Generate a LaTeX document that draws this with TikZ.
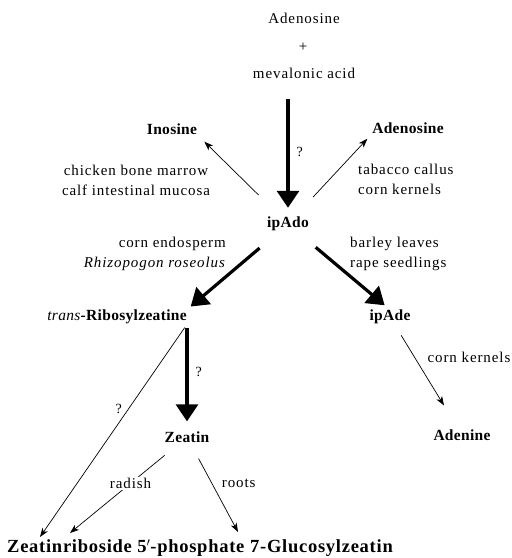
\documentclass[tikz,border=0pt]{standalone}
\usepackage{fontspec}
\setmainfont{Liberation Serif}
\newfontfamily\spaced[LetterSpace=6]{Liberation Serif}
\newfontfamily\spacedl[LetterSpace=2]{Liberation Serif}
\newfontfamily\spacedb[LetterSpace=4]{Liberation Serif}
\usetikzlibrary{arrows.meta,calc}
\begin{document}
\begin{tikzpicture}[x=1pt,y=-1pt,
  reg/.style={inner sep=0pt,font=\spaced\fontsize{15}{20}\selectfont},
  lbl/.style={inner sep=0pt,font=\spacedl\bfseries\fontsize{15.5}{20}\selectfont},
  bot/.style={inner sep=0pt,font=\spacedb\bfseries\fontsize{18.5}{20}\selectfont},
  qm/.style={inner sep=0pt,font=\fontsize{14}{16}\selectfont},
  thickarr/.style={line width=3.2pt,-{Triangle[width=22pt,length=17pt]}},
  thinarr/.style={line width=0.7pt,-{Stealth[length=9pt,width=6.5pt,inset=2.5pt]}}]
\useasboundingbox (0,0) rectangle (512,558);
% top
\node[reg] (ado) at (304,18) {Adenosine};
\node[reg] (plus) at (303,47) {+};
\node[reg] (mev) at (304,73) {mevalonic acid};
% level 1
\node[lbl] (ino) at (172,129) {Inosine};
\node[lbl] (adob) at (408,128) {Adenosine};
\node[lbl] (ipado) at (288,224) {ipAdo};
\node[reg,align=center] (chick) at (136,180) {chicken bone marrow\\calf intestinal mucosa};
\node[reg,align=left,anchor=west] (tab) at (358,179) {tabacco callus\\corn kernels};
\node[reg,align=right,anchor=east] (endo) at (226,254) {corn endosperm\\\textit{Rhizopogon roseolus}};
\node[reg,align=left,anchor=west] (barley) at (350,254) {barley leaves\\rape seedlings};
% level 2
\node[lbl] (trans) at (117,317) {\textmd{\textit{trans}}-Ribosylzeatine};
\node[lbl] (ipade) at (390,317) {ipAde};
\node[lbl] (zeatin) at (187,437) {Zeatin};
\node[lbl] (adenine) at (462,435) {Adenine};
\node[reg] (ck) at (469,357) {corn kernels};
% bottom
\node[bot,anchor=west] (zr) at (7,548) {Zeatinriboside 5$'$-phosphate};
\node[bot,anchor=west] (gz) at (zr.east) {\ 7-Glucosylzeatin};
% coordinates
\coordinate (mevend) at (288,99);
\coordinate (tz) at (trans.south -| zeatin.north);
\coordinate (zrA) at (40,537);
\coordinate (zrB) at (70,533);
\coordinate (gzA) at (238,532);
% connectors
\draw[thickarr,shorten >=9pt] (mevend) -- (ipado.north) node[qm,pos=0.45,right=7pt] (q1) {?};
\draw[thinarr,shorten <=31pt,shorten >=10pt] (ipado) -- (ino.south east);
\draw[thinarr,shorten <=27pt,shorten >=7pt] (ipado) -- (adob.south west);
\draw[thickarr,shorten <=26pt,shorten >=5pt] (ipado) -- (trans.north east);
\draw[thickarr,shorten <=25pt,shorten >=7pt] (ipado) -- (ipade.north);
\draw[thinarr,shorten <=13pt,shorten >=28pt] (ipade) -- (adenine);
\draw[thickarr,shorten <=4pt,shorten >=10pt] (tz) -- (zeatin.north) node[qm,pos=0.45,right=7pt] (q2) {?};
\draw[thinarr,shorten <=4pt] (tz) -- (zrA) node[qm,pos=0.4,left=6pt] (q3) {?};
\draw[thinarr,shorten <=20pt] (zeatin) -- (zrB) node[reg,pos=0.45,fill=white,inner sep=1pt] (rad) {radish};
\draw[thinarr,shorten <=18pt] (zeatin) -- (gzA) node[reg,pos=0.45,right=10pt] (roots) {roots};
\end{tikzpicture}
\end{document}
